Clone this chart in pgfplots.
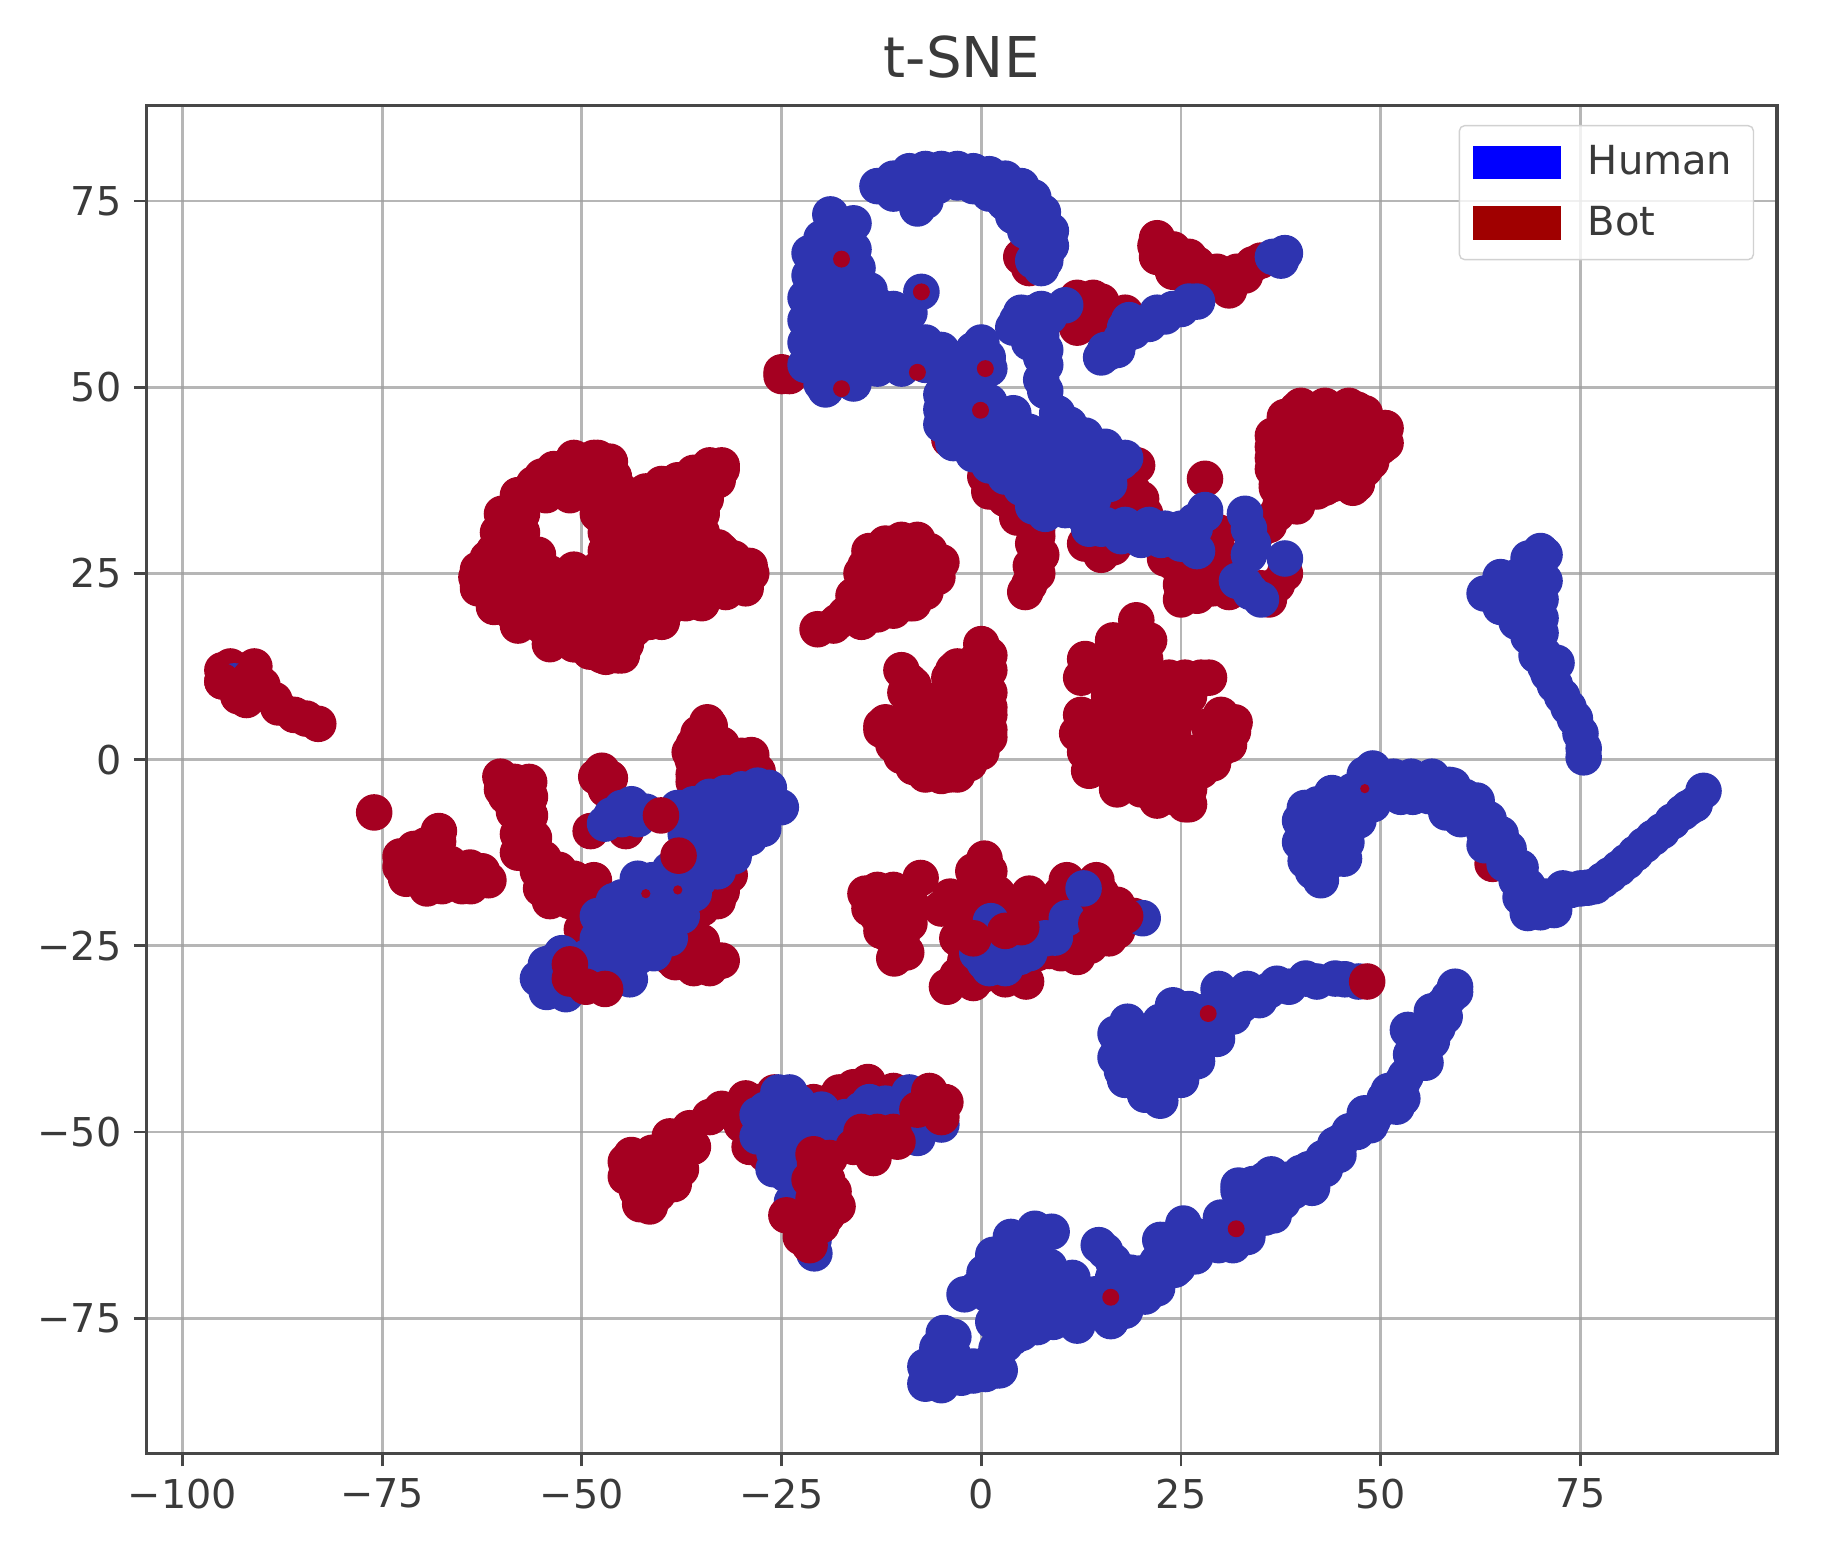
\documentclass[border=0pt]{standalone}
\usepackage{pgfplots}
\pgfplotsset{compat=1.18}
\usepackage{fontspec}
\setmainfont{DejaVu Sans}
\definecolor{BotPt}{HTML}{A50021}
\definecolor{HumanPt}{HTML}{2E34B0}
\definecolor{BotLeg}{HTML}{A00000}
\definecolor{HumanLeg}{HTML}{0000FF}
\definecolor{TextGrey}{HTML}{3A3A3A}
\begin{document}
\begin{tikzpicture}
\useasboundingbox (-1.465,-1.033) rectangle (16.745,14.537);
\begin{axis}[
  at={(0,0)},anchor=south west,
  scale only axis,
  width=16.305cm,height=13.48cm,
  xmin=-104.5,xmax=99.6,ymin=-93.2,ymax=87.8,
  xtick={-100,-75,-50,-25,0,25,50,75},
  xticklabels={−100,−75,−50,−25,0,25,50,75},
  ytick={-75,-50,-25,0,25,50,75},
  yticklabels={−75,−50,−25,0,25,50,75},
  grid=major,
  grid style={color=black!38,line width=0.8pt,opacity=0.75},
  axis on top,
  axis line style={color=black!72,line width=0.9pt},
  tick style={color=black!72,line width=0.8pt},
  tick align=outside,
  major tick length=3.6pt,
  tick pos=left,
  tick label style={font=\fontsize{11.3}{13}\selectfont,text=TextGrey},
  title={t-SNE},
  title style={font=\fontsize{16}{18}\selectfont,text=TextGrey,yshift=-1.6pt},
  legend cell align=left,
  legend style={at={(0.986,0.9857)},anchor=north east,draw=black!18,rounded corners=1.5pt,
    fill=white,fill opacity=0.8,text opacity=1,font=\fontsize{11.4}{13}\selectfont,
    text=TextGrey,row sep=3.5pt,inner xsep=4pt,inner ysep=3.5pt},
]
\addlegendimage{legend image code/.code={\fill[HumanLeg,sharp corners,fill opacity=1] (0cm,-0.16cm) rectangle (0.86cm,0.16cm);\path (1.06cm,0cm);}}
\addlegendentry{Human}
\addlegendimage{legend image code/.code={\fill[BotLeg,sharp corners,fill opacity=1] (0cm,-0.16cm) rectangle (0.86cm,0.16cm);\path (1.06cm,0cm);}}
\addlegendentry{Bot}
% bot points under the humans
\addplot[only marks,mark=*,mark size=5pt,color=BotPt,forget plot] coordinates {
 (-51,40.5)(-48,40.5)(-55,38)(-52,38)(-49,38)(-47,38)(-32.5,39)
 (-57.5,35.5)(-54.5,35.5)(-51.5,35.5)(-48.5,35.5)(-46,35.5)(-43,35)(-40,36.5)(-37,37)(-34.5,37)
 (-60,33)(-57.5,33)(-48,33)(-45,33)(-42,33)(-39,33)(-36,33)(-35,34)
 (-60.5,30.5)(-57.5,30.5)(-47,30.5)(-44,30.5)(-41,30.5)(-38,30.5)(-35,30.5)
 (-61,28)(-58,28)(-55.5,27.5)(-47,28)(-44,28)(-41,28)(-38,28)(-35,28)(-32.5,28)
 (-63,25.5)(-60,25.5)(-57,25.5)(-54,25)(-51,25.5)(-48,25.5)(-45,25.5)(-42,25.5)(-39,25.5)(-36,25.5)(-33,25.5)(-30,25.5)(-29,26)
 (-63,23.5)(-60,23)(-57,23)(-54,23)(-51,23)(-48,23)(-45,23)(-42,23)(-39,23)(-36,23)(-33,23)(-30,23.5)
 (-61,20.5)(-58,20.5)(-55,20.5)(-52,20.5)(-49,20.5)(-46,20.5)(-43,20.5)(-40,20.5)(-37,21.5)(-35,21)
 (-58,18)(-55,18)(-52,18)(-49,18)(-46,18)(-43,18)(-40,18.5)
 (-54,15.5)(-51,15.5)(-48,15.5)(-45,15.5)(-47.5,14)(-45.5,14)
 (-63.2,24.5)(-61.8,27)(-60.2,30)(-59.5,33)(-58,35.5)(-56,37)(-53.5,39)(-51,40.3)(-48.5,40.5)(-46.5,40)(-46,38)(-45,36)
 (-44,35)(-42,36)(-40,37)(-38,37.5)(-36,38.5)(-34,39.5)(-32.5,39.5)(-33,37.5)(-34.5,35)(-35,33)(-35,30)(-33,28.5)(-31,27)(-29.5,26)(-28.8,25)(-29.5,23)
 (-32,22.5)(-34.5,22)(-37,21)(-39.5,20)(-41.5,18.5)(-43.5,17.5)(-44.5,15.5)(-45,14)(-47,13.8)(-49,14.5)(-51,15.5)(-53,16.5)(-55,18)(-57,19)(-59,20)(-61,21.5)(-63,23)
 (-95,10.5)(-94,12.5)(-92,12)(-91,12.5)(-93,9)(-92,8)(-90,10)(-88.5,8)(-88,7)(-86,6)(-84.5,5.5)(-83,4.8)(-95,12)(-92,10)
 (-20.5,17.5)(-18,18.5)(-16,19.5)(-13.5,20)(-11,20.5)(-8.5,21)(-16,22)(-13,23)(-10,23)(-7,23.5)(-6,25.5)
 (-15,25)(-12,26)(-9,26)(-14,28)(-11,29)(-8.5,29)(-6.5,28)
 (-18.5,18)(-17,19.5)(-15.5,21)(-15,23)(-14.5,26)(-13.5,28)(-12,29)(-10,29.5)(-8,29.5)(-5,26.5)(-5.5,24.5)(-7,22.5)(-9,21)(-11,20)(-13,19.5)(-15,18.5)(-10,26.5)(-12,23.5)(-8,24)
 (-10,12)(-8.5,10)(-7,8)(-12.5,4.5)(-10,3)(-7.5,4.5)(-5,6)(-3,8)(-4,11)(-3,12.5)(-1,12)(0,15.5)(-0.5,13.5)(0.5,10)(1,7)
 (-2,10)(-1,7)(-4,5)(1,4)(-11,2)(-9,0)(-6.5,-1.5)(-4,-2)(-1.5,-0.5)(0,2)(-7,1)(-4,2)(-1,3)
 (1,14)(1,12)(1,9)(1,6)(1,3)(0,1)(-3,-2)(-5,-2.2)(-7,-2)(-8.5,-1)(-10,0.5)(-12.5,4)(-12,5)(-9.5,5)(-8,7)(-9,10.5)(-9.5,9)(-3.5,12)(-3,10)(-4.5,8)(-5,7)(-7,3)(-5,3.5)(-2,5)
 (19.4,18.7)(16.5,16)(19,16)(21,16)(13,13.5)(15.5,13.5)(18,13.5)(20.5,13.5)(12.5,11)(15.5,11)(18,11)(20.5,11)(23.5,11)(25.5,11)(27.5,11)
 (16,8.5)(18.5,8.5)(21,8.5)(23.5,8.5)(26,8.5)(12.5,6)(15,6)(18,6)(20.5,6)(23,6)(25,6)(12,3.5)(15,3)(18,3.5)(21,3.5)(24,3.5)(28.5,4.5)(31.5,3.8)(30,6)
 (13,1)(16,1)(19,1)(22,1)(25,1)(27,1)(30,1.5)(13.5,-1.5)(16,-1.5)(19,-1.5)(22,-1.5)(25,-1.5)(27.5,-1.5)(17,-4)(20,-4)(23,-4)(26,-4)(22,-5.5)(25.5,-6)(26,-6)
 (28.5,11)(29.5,4.5)(31.7,5)(31,2)(29,-0.5)(14.5,-0.5)(19,-3)(24,-5)
 (39.5,47)(42,47)(45,47)(47,47)(38,44.5)(41,44.5)(44,44.5)(47,44.5)(50.5,44.5)(36.5,42)(39.5,42)(42.5,42)(45.5,42)(48,42)(50,42)
 (36.5,39)(39.5,39)(42.5,39)(45.5,39)(48,39)(37,36.5)(40,36.5)(43,36.5)(46.5,36.5)(37.5,34)(39.5,34)(37,33)(36,31.5)(35,31)
 (40,47.5)(38,46)(36.5,43.5)(36.5,40.5)(37,37)(37.5,34.5)(42,36)(44,37)(47,37)(48.8,40)(50.6,42.5)(50.6,44.5)(48,46.5)(46,47.5)(43,47.5)
 (28,37.7)
 (22,70)(22,67.5)(24,68.5)(25,66)(27,66.5)(29.5,65.5)(32,65.5)(34,66.5)(28,63.5)(31,63)(26,64.5)(24,65.5)(21.8,69)(23.5,67)(26,67.5)(28.5,65)(30,64)(33,65)(35,67)
 (12,62)(13,60)(15,61.5)(16,59.5)(18,60)(13.5,58.5)(11,59.5)(14,62)(12,58)(16,58)
 (5,67.5)(7,66.5)(8,67.5)(6,66)
 (-25,52)(-24,51.5)(-25,51.5)(-4,43)(-3,44)(0.5,38)(1,36)(3,35)(5,34)(6,32)(7,31)(7,30)(7.5,27.5)(6,23.5)(5.5,22.5)(7,25)(2.5,36)(4.5,32.5)(6.5,29)(6.2,26)
 (19.5,39.5)(18.5,37.5)(16.5,36.5)(17,34.5)(20,35)(20.5,33)(21,31)(13,29)(15,27.5)(16.5,28.5)(18,33)(19,36)(18,35)
 (24,26.5)(26,26.5)(29.7,30.5)(28,29)(30,27.5)(32,26)(30,25)(25,21.5)(27,22)(29,23)(27,24.5)(31,22.5)(33,23)(35,23)(37,23.5)(38,25)(36,21.5)(28,27)(26,28)(23,27)(25,23.5)
 (-76,-7.1)(-67.9,-9.6)(-72.7,-14.4)(-69.4,-17.3)(-61.7,-16.2)(-65.4,-15.5)(-70.5,-14)(-68.3,-13.3)(-66.8,-16.2)(-63.9,-17)
 (-72.7,-13)(-71,-12)(-69.5,-11.5)(-68,-11)(-72,-16)(-70.5,-16)(-68,-15)(-67.5,-17)(-65,-17)(-62.5,-15)(-64,-14.5)(-66.5,-14)
 (-58.4,-3)(-60.2,-2.3)(-56.6,-3)(-59.5,-4.9)(-57.3,-6)(-57,-8.6)(-57,-12.2)(-54.8,-13.3)(-52.9,-14.8)(-55.1,-17.3)(-52.2,-17.3)(-53.7,-18.4)
 (-60,-4)(-58,-5)(-56.5,-5)(-58.5,-7)(-56.5,-7.5)(-58,-10)(-56,-10.5)(-58,-12.5)(-55.5,-15)(-53.5,-16)(-51,-16)(-54,-19)(-51.5,-19)(-49,-18.5)(-49.5,-21)
 (-50,-17)(-48.5,-16.2)(-50,-22.8)(-50,-19.9)(-48.2,-2.3)(-48.9,-9.6)(-46.5,-2.5)(-47.5,-1.5)(-47,-4)(-50,-25)
 (-34.3,5)(-35.4,3.5)(-36.1,-0.1)(-33.9,-0.9)(-28.8,0.6)(-30.3,-1.6)(-32.5,2)(-28,-1.6)
 (-36,2)(-36,-2)(-34,2)(-34,4.5)(-32,0)(-30,0.5)(-29,-1)(-36,-3)(-34,-3)(-32,-3)(-30,-3)(-36.5,1)
 (-35.7,-26.8)(-38.3,-27.2)(-33.6,-26.8)(-36.5,-22.8)(-32.5,-17.7)(-44.5,-9.6)
 (-36,-28)(-34,-28)(-32.5,-27)(-39,-26.5)(-37,-25.5)(-35,-24.5)(-37.5,-22)(-35,-20)(-33,-19)(-31.5,-15.5)(-36,-24)
 (-36.5,-49.5)(-39,-50.6)(-36.1,-52)(-43.8,-53.1)(-41.2,-52.8)(-38.3,-52.8)(-43.4,-55.7)(-40.5,-55.7)(-37.6,-55)(-42.7,-59.7)(-43.1,-57.9)(-40.5,-58.3)
 (-44.5,-54)(-44.5,-56)(-42,-54.5)(-39.5,-53)(-37,-51)(-42,-57)(-41.5,-60)(-38.5,-57)(-34,-48)(-31,-47.5)
 (-32.5,-46.9)(-29.5,-45.5)(-25.9,-44.7)(-28.8,-50.6)(-17.8,-44.7)(-14.2,-43.3)(-16,-45)(-28,-46)(-24,-45.5)(-21,-46)(-19,-46)(-16,-44)(-13,-46)(-11,-44.5)(-30,-49)(-29,-52)(-27,-53)
 (-14.5,-18)(-13,-21)(-11.6,-23.5)(-9.4,-25.9)(-10.9,-26.7)(-8.7,-19.6)(-12,-18)(-10,-22)(-13,-17.5)(-11,-17.5)(-9.5,-18)(-14,-20)(-12.5,-23)(-10,-24)(-9,-22)
 (-7.6,-15.9)(-3.9,-18.4)(0.4,-13.3)(0.4,-17)(2.6,-20.6)(-1,-23.5)(5.6,-21.3)(10.7,-16.2)(14.4,-16.2)(8.5,-20.6)(12.2,-21.3)(15.8,-21.3)(19.1,-21)(13.6,-25)
 (-4.3,-30.5)(-1.8,-29.4)(5.6,-29.8)(8.5,-25.7)(-1,-20)(6,-18)
 (-5,-20)(-3,-20)(-1,-19)(1,-15)(-1,-15)(2,-18)(0,-21)(3,-23)(5,-19)(7,-20)(9,-19)(10,-18)(13,-18)(15,-18)(11,-19.5)(14,-20)(17,-19.5)(6,-23)(8,-23)(11,-23)(14,-23.5)(17,-23)(-3,-24)(0,-25)(-2,-27)(-3,-29)(-1,-30)(0,-29)(3,-29.5)(5,-28)(7,-26)(10,-26)(12,-26.5)(16,-24)
 (64,-14)
};
% human points
\addplot[only marks,mark=*,mark size=5pt,color=HumanPt,forget plot] coordinates {
 (-13,77)(-11,78)(-9,79)(-7,79.3)(-5,79.3)(-3,79.3)(-1,79)(1,78.6)(3,78)(5,77)(6.5,75.5)(7.7,73.5)(8.7,71)(8.7,69)(8,67)
 (-11,76)(-9,76)(-7,75)(-8,74)(-5.5,77)(-3,77.5)(-1,77)(1,76)(2.9,74.8)(4,73)(5.5,71)(7,72)(5,75)(7,69)(6.5,67)(7.5,66)
 (-18.9,73.2)(-18,72)(-20,70)(-21.5,68)(-21.5,65)(-22,62)(-22,59)(-22,56)(-22,53)(-20,50.5)(-19,67)(-18.5,64)(-19,61)(-19,58)(-19,55)(-19,52.5)(-16,72)(-17,70)(-16,68.5)(-15.5,66)(-19.5,49.7)
 (-16.5,65)(-16,62)(-16,59)(-16,56)(-16,53)(-13,58)(-13,55)(-13,52.5)(-16,50.5)(-10,58.5)(-10,55)(-10,52.5)(-7,56)(-7,53)(-4,54)(-1,53.5)(0,56)(1,52.5)(-1.5,51)
 (-11,60.5)(-13,61)(-9,60)(-7.5,62.8)(-14,63)(-4,52.5)(-1,55)(0.8,54)(-5,55)
 (-4.5,47)(-4,44.5)(-1.5,47)(-2,44)(0,42.5)(0.5,45.5)(2.5,43)(3,40)(5,40)(5.5,37)(7.5,38)(8,35)(10,36)(10,34)(12,38)(9.5,40)(7,42)(2,46)(4,44)(-3,49)
 (-5,49)(-5,47)(-5,45)(-3.5,42.5)(-1,41)(1,39.5)(3,38)(5,36.5)(6.5,34)(8,33)(10.5,33.5)(12.5,33)(14,35)(16,37)(-2,49.5)(1,48)(4,46.5)(6,44)(9,42)(12,41)
 (9.5,46.5)(9,44)(11.5,43)(14,42)(17.5,40)(12,40)(14,39.5)(16,38)(14,36)(12,34.5)(11,45)(13,43.5)(15.5,42)(18,40.5)
 (4.5,59)(4,58)(6.5,60)(7.5,57)(7.5,54)(7.5,51)(8,49.5)(8.5,59.5)(10.5,61)(5,60)(5,58)(6,56)(8,60)(8,55)(8,53)(7.5,60.5)
 (20,58.5)(22,60)(24,60.5)(26,61.5)(15.8,54.6)(17.5,56.5)(18.5,59)(19,57.5)(21,58.5)(23,59.5)(25,60.5)(27,61.5)(15.5,55)(15,54)(17,55)(18,58)
 (38,68)(36.5,67.5)(37.5,67)
 (15,31)(17.5,30)(20,29.5)(22.5,29.5)(25,29)(26.7,31)(28,33)(27,28)(33,33)(33.5,31)(34,29)(38,27)(32,24)(33,23.5)(35,21.5)(15.5,31.5)(18,31.5)(21,31.5)(23,31)(25,31)(26.7,32)(28,33.5)(13.5,31)(33.7,22.5)(33.5,27.5)
 (68.5,27)(70.5,27.5)(70,28)(67,24.5)(70.5,24)(63,22.3)(65,24.5)(65,22.5)(67,22)(70,21.5)(67,19)(70,19)(65,20.5)(67,18.5)(68.5,16.5)(70,17)(69.5,14)(70.5,14)(71,11.5)(71.8,10)(72.7,8.5)(73.5,7)(74.3,5.5)(75,3.5)(75.4,1.5)(75.4,0.3)(70.6,12.5)(72,13)
 (49,-1.2)(46.5,-4.2)(48.7,-3.8)(43.9,-4.5)(42.1,-6)(44.7,-6.4)(47.2,-6)(39.9,-8.2)(42.1,-8.6)(45,-8.9)(47.2,-8.2)(39.9,-11.1)(42.8,-11.1)(45.7,-11.1)(40.6,-13.6)(43.2,-14)(45.4,-13.3)(42.5,-16.2)(48,-2)(40.5,-6.5)(41.5,-15)
 (51.6,-2.3)(53.8,-2.3)(56.4,-2.3)(58.6,-3.4)(58.2,-7.1)(60,-6)(61.8,-7.5)(62.9,-9.6)(64.4,-11.8)(65.5,-14)(67,-16.2)(68.4,-17)(68.4,-20.6)(70.6,-18.4)(71.7,-20.2)(72.8,-17.3)(75,-17.3)(76.8,-17)(78.7,-15.5)(80.8,-13.7)(83,-11.5)(85.2,-9.6)(87.8,-7.1)(89.3,-6)(90.4,-4.2)(56,-4.9)
 (51.5,-3.5)(54,-3)(56.5,-3)(59,-3.5)(60.5,-5)(62,-5.5)(63.5,-8)(65,-10)(66,-12)(67.5,-14.5)(54,-5)(52.5,-5)(50,-4)(49,-6)(60,-8)(63,-11.5)
 (69.5,-18.5)(71,-19)(73.8,-17.5)(75.9,-17.2)(77.8,-16.2)(79.8,-14.6)(81.9,-12.6)(84.1,-10.5)(86.5,-8.3)(88.5,-6.5)(70,-20.5)(67.5,-18.5)
 (24.6,-33.4)(18.3,-35.2)(17.3,-38.2)(19.8,-37)(22.4,-35.2)(17.6,-41.8)(20.2,-39.6)(23.1,-38.2)(19.8,-43.3)(22.4,-42.5)(22.4,-45.8)(26,-36)(28.2,-33.8)(25.3,-39.6)(30,-32.7)(33.3,-30.8)(37,-30.1)(40.6,-29.4)(44.3,-29.4)(47.2,-29.8)(31.5,-34.5)(28.2,-36.7)(26.8,-38.9)(24.9,-41.8)(34.8,-32.3)(29.7,-30.8)
 (36,-31)(38.5,-30.5)(42,-29.8)(45.5,-29.5)(31.5,-32)(32.5,-33)(16.8,-36.8)(16.8,-40)(18,-43)(20.5,-45)(25,-43)(27,-40.5)(29.5,-37.5)(24,-36)(26,-33.5)(20,-41.5)(22,-40)(24,-33)
 (59.3,-30.5)(57.8,-33)(57.1,-36)(53.4,-36.3)(55.6,-38.2)(55.3,-40.7)(53.1,-42.5)(52.7,-45.5)(50.1,-46.9)(48.7,-49.1)(46.1,-49.9)(44.3,-51.7)(42.8,-53.5)(40.6,-57.2)(38.5,-56.4)(36.3,-55.7)(32.2,-57.2)(32.6,-58.6)(35.2,-58.3)(37.7,-59.4)(41,-55)(35.5,-61.5)(33.3,-64.1)(31.5,-65.2)(29.7,-65.2)(28.2,-64.5)(25.3,-62.3)(23.1,-64.5)(26.8,-66.7)(24.6,-68.1)(21.6,-69.6)(20.2,-71.8)(18,-74)(16.2,-75.4)(14.7,-65.2)(16.5,-67.4)(18.7,-68.9)(16.5,-69.6)(14.3,-71.8)(10.7,-75)(7,-76.2)(3.9,-77.6)(1.9,-79.1)(2.3,-82)(-1,-82.7)
 (59.3,-31.2)(56.4,-37.8)(55.6,-40.7)(52.7,-43.3)(52,-46.6)(49,-48.4)(44.7,-53.1)(41.4,-57.5)(36.6,-61.2)(31.5,-64.8)(24.2,-68.5)(20.5,-72.1)(56.4,-33.8)(53.8,-39.6)(50.5,-45.5)(45,-51.3)(42.1,-55)(35.5,-56.4)(32.2,-57.9)(25.3,-62.6)(22.4,-64.5)
 (47,-50)(39,-58)(38,-58)(34,-61)(30,-61.5)(27,-64)(24,-66)(22,-67.5)(19,-70)(29,-64)(26,-66)(58.5,-32)(56.5,-35)(58,-34.5)(54.5,-37)(51,-44.5)(48,-47.5)(43,-55)(40,-55.5)(34,-57)(33,-60)(20,-69)(18,-71)(16,-72.5)(22,-71)(12,-76)(9,-75.5)(5,-77)(3,-78.5)
 (6.7,-63)(3.7,-64.1)(8.8,-63.4)(3,-66.7)(6.3,-65.9)(8.5,-68.1)(11.4,-69.6)(0.4,-68.9)(3.4,-68.9)(6.3,-68.9)(-2.1,-71.8)(0.8,-71.8)(3.7,-71.8)(6.7,-71.8)(9.5,-71.8)(12.5,-71.8)(3.4,-74.7)(6.3,-74.7)(9.2,-74.3)(12.1,-74)
 (1,-70.3)(5,-70.3)(8,-70.3)(11,-71)(2,-73)(5,-73)(8,-73)(11,-73)(5,-66.5)(1.5,-66.5)(-0.5,-71)(1.5,-75.5)(14,-74)(13,-72.5)(15.5,-66)(17,-71)
 (-4.7,-77)(-3.5,-77.5)(-5.5,-79)(-3.5,-80)(-7,-81.5)(-5,-82)(-3,-82)(-1,-81.5)(1,-81)(2,-82)(-7,-83.8)(-5,-84)(-2.5,-83)(0.5,-82.5)
 (-46.3,-7.5)(-43.8,-6)(-47.1,-8.6)(-25.1,-6.4)(-26.6,-3.8)(-28,-6)(-27.3,-9.3)(-29.5,-8.2)(-31,-6)(-33.6,-6.7)(-36.1,-7.8)(-31.7,-9.6)(-34.3,-9.6)(-32.5,-12.6)(-34.6,-12.9)
 (-45,-8)(-45,-6.5)(-43,-8)(-42,-7)
 (-41.2,-16.2)(-38.3,-16.6)(-35.4,-16.2)(-44.2,-18.4)(-41.2,-19.2)(-37.6,-19.2)(-45.6,-21.3)(-42.7,-21.3)(-39.8,-21.3)(-47.1,-24.3)(-44.2,-24.3)(-41.2,-23.5)(-47.1,-27.9)(-44.5,-27.2)(-49.3,-26.5)(-55.5,-29.4)(-53.7,-27.2)(-54.4,-31.2)
 (-38,-6.5)(-36,-6)(-34,-5)(-32,-4.5)(-30,-4)(-28,-3.5)(-37,-10)(-36,-12)(-30,-11)(-29,-10.5)(-33,-15)(-31,-13)(-35,-14.5)(-36,-18)(-38,-19)(-39,-14.8)(-43,-16)(-45,-18.5)(-46,-19)(-48,-21)(-48,-24)(-48,-27)(-46,-29)(-44,-29.5)(-43,-26.5)(-41,-26)(-39,-24)(-37.5,-21)
 (-54.5,-27.5)(-52.5,-26)(-52,-31.5)
 (-28,-47.7)(-25.4,-44.7)(-24,-44.7)(-28,-50.6)(-21.9,-48.4)(-19,-49)(-25.9,-52.8)(-24.4,-55.7)(-23.7,-59.4)(-22.3,-61.5)(-20.9,-66.3)(-12,-46.2)(-9,-44.7)(-8,-50.8)(-5,-49)(-15,-47)
 (-27,-47)(-26,-50)(-24,-49)(-22,-47)(-20,-47)(-17,-48)(-14,-46)(-12,-49)(-10,-47)(-8,-48.5)(-25,-47)(-23,-46)(-24,-52)(-26,-55)(-23,-57)(-22,-63)(-21,-64.5)
 (1.2,-21.7)(12.8,-17.3)(20.2,-21.3)(2.6,-27.2)(0.4,-27.2)(4.8,-26.5)(9.2,-23.9)(10.7,-21.3)(1,-28)(3,-28)(-0.5,-26)(2,-25.5)(6,-26)(8,-24)
 (-93.5,10.5)
};
% bot points that lie over the humans
\addplot[only marks,mark=*,mark size=5pt,color=BotPt,forget plot] coordinates {
 (-40.1,-7.5)(-37.9,-12.9)(-51.5,-29.4)(-51.5,-27.5)(-47.1,-30.8)(-49.5,-30.5)
 (-20.8,-54.2)(-19.3,-56.4)(-21.5,-56.4)(-19.3,-61.2)(-24.4,-61.2)(-21.5,-65.2)(-22.6,-64.1)
 (-19,-53.5)(-21,-53)(-18.5,-58)(-21,-59)(-18,-60)(-20,-62.5)(-23,-62)
 (-13.5,-53.5)(-10.5,-51.3)(-15,-50)(-16,-52)(-13,-50)
 (-6.5,-44.5)(-4.5,-46)(-5,-48)(-8,-47)(-11,-50)(-13,-52)
 (14.4,-22)(16.6,-21.3)(18,-21)(-1,-24)(3,-23)(5,-22.5)(48.3,-29.8)
 (-95,10.5)(-91.5,11)(-93,8.5)
};
% small bot specks among the humans
\addplot[only marks,mark=*,mark size=2.2pt,color=BotPt,forget plot] coordinates {
 (-7.5,62.8)(-17.5,67.2)(0.5,52.5)(-0.1,46.9)(28.4,-34.1)(31.9,-63)(16.2,-72.2)(-17.5,49.8)(-8,52)
};
\addplot[only marks,mark=*,mark size=1.1pt,color=BotPt,forget plot] coordinates {
 (48,-3.9)(-42,-18)(-38,-17.5)
};
\end{axis}
\end{tikzpicture}
\end{document}
